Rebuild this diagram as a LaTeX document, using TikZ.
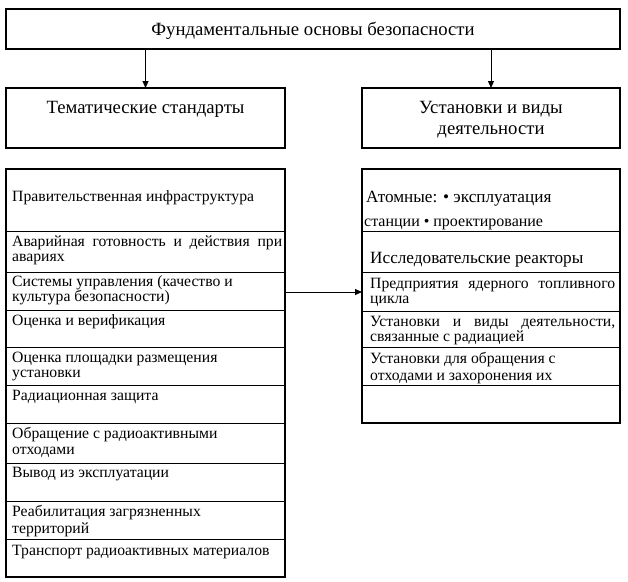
\documentclass[tikz,border=0pt]{standalone}
\usepackage{fontspec}
\setmainfont{Liberation Serif}
\usetikzlibrary{arrows.meta}
\newcommand{\fsBody}{\fontsize{15.7}{15}\selectfont}
\newcommand{\fsHead}{\fontsize{18.7}{21}\selectfont}
\newcommand{\fsBig}{\fontsize{17.2}{17}\selectfont}
\newcommand{\fsMid}{\fontsize{16}{16}\selectfont}
\begin{document}
\begin{tikzpicture}[x=1pt,y=-1pt,
  boxframe/.style={draw, line width=2pt, anchor=north west, inner sep=0pt, outer sep=0pt},
  sep/.style={line width=1pt},
  arr/.style={line width=1pt, -{Triangle[length=7pt,width=6pt]}},
  txt/.style={anchor=base west, inner sep=0pt, font=\fsBody},
  head/.style={anchor=base, inner sep=0pt, font=\fsHead}]
\useasboundingbox[fill=white] (0,0) rectangle (628,581);
% boxes
\node[boxframe, minimum width=614pt, minimum height=40pt] (top) at (6,9) {};
\node[boxframe, minimum width=279pt, minimum height=60pt] (tl) at (6,88) {};
\node[boxframe, minimum width=258pt, minimum height=60pt] (tr) at (362,88) {};
\node[boxframe, minimum width=279pt, minimum height=408pt] (L) at (6,169) {};
\node[boxframe, minimum width=258pt, minimum height=254pt] (R) at (362,169) {};
% headings
\node[head] (ttop) at (313,35) {Фундаментальные основы безопасности};
\node[head] (ttl) at (145.5,113) {Тематические стандарты};
\node[head] (ttr1) at (491,113) {Установки и виды};
\node[head] (ttr2) at (491,134) {деятельности};
% arrows
\draw[arr] (top.south -| tl.north) -- (tl.north);
\draw[arr] (top.south -| tr.north) -- (tr.north);
\draw[arr] (L.east |- 0,292) -- (R.west |- 0,292);
% left separators
\foreach \yy in {231,272,310,347,385,423,463,501,539}
  \draw[sep] (L.west |- 0,\yy) -- (L.east |- 0,\yy);
% right separators
\foreach \yy in {231,272,311,347,385}
  \draw[sep] (R.west |- 0,\yy) -- (R.east |- 0,\yy);
% left texts
\node[txt] (l1) at (12,201) {Правительственная инфраструктура};
\node[txt] (l2a) at (12,246.5) {\makebox[270pt][s]{Аварийная готовность и действия при}};
\node[txt] (l2b) at (12,261.5) {авариях};
\node[txt] (l3a) at (12,286.5) {Системы управления (качество и};
\node[txt] (l3b) at (12,301.5) {культура безопасности)};
\node[txt] (l4) at (12,325) {Оценка и верификация};
\node[txt] (l5a) at (12,362) {Оценка площадки размещения};
\node[txt] (l5b) at (12,377.5) {установки};
\node[txt] (l6) at (12,400) {Радиационная защита};
\node[txt] (l7a) at (12,438.5) {Обращение с радиоактивными};
\node[txt] (l7b) at (12,454.5) {отходами};
\node[txt] (l8) at (12,477) {Вывод из эксплуатации};
\node[txt] (l9a) at (12,516) {Реабилитация загрязненных};
\node[txt] (l9b) at (12,533) {территорий};
\node[txt] (l10) at (12,555) {Транспорт радиоактивных материалов};
% right texts
\node[txt, font=\fsBig] (r1a) at (366,202) {Атомные: • эксплуатация};
\node[txt, font=\fsMid] (r1b) at (364,226) {станции • проектирование};
\node[txt, font=\fsBig] (r2) at (370,263) {Исследовательские реакторы};
\node[txt] (r3a) at (370,288) {\makebox[245pt][s]{Предприятия ядерного топливного}};
\node[txt] (r3b) at (370,303) {цикла};
\node[txt] (r4a) at (370,326) {\makebox[245pt][s]{Установки и виды деятельности,}};
\node[txt] (r4b) at (370,341.5) {связанные с радиацией};
\node[txt] (r5a) at (370,363.5) {Установки для обращения с};
\node[txt] (r5b) at (370,380) {отходами и захоронения их};
\end{tikzpicture}
\end{document}
